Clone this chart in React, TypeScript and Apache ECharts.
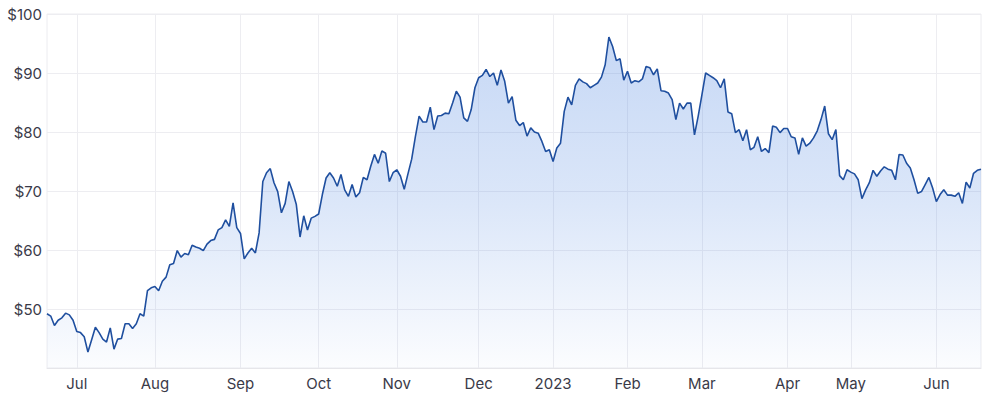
import { useEffect, useRef } from 'react';
import * as echarts from 'echarts';

// Daily closes, one array per month (trading days only)
const jun22 = [49.2, 48.8, 47.2, 48.1, 48.5, 49.3, 49.0, 48.1];
const jul22 = [46.2, 46.0, 45.3, 42.7, 44.8, 46.9, 46.0, 44.9, 44.4, 46.8, 43.2, 44.9, 45.0, 47.5, 47.5, 46.7, 47.5, 49.2, 48.8, 53.1, 53.6];
const aug22 = [53.8, 53.1, 54.7, 55.4, 57.5, 57.7, 59.9, 58.8, 59.4, 59.2, 60.8, 60.5, 60.3, 59.9, 61.0, 61.6, 61.8, 63.4, 63.8, 65.1, 64.0, 68.0, 63.8];
const sep22 = [62.8, 58.5, 59.5, 60.3, 59.5, 62.9, 71.6, 73.1, 73.8, 71.4, 69.9, 66.3, 67.9, 71.6, 69.9, 67.7, 62.2, 65.8, 63.4, 65.4, 65.7];
const oct22 = [66.1, 69.4, 72.2, 73.1, 72.2, 70.8, 72.8, 70.2, 69.1, 71.1, 69.0, 69.7, 72.3, 71.9, 74.2, 76.2, 74.7, 76.8, 76.4, 71.6, 73.1];
const nov22 = [73.6, 72.5, 70.3, 72.9, 75.4, 79.2, 82.7, 81.7, 81.7, 84.2, 80.4, 82.7, 82.8, 83.2, 83.1, 84.9, 86.9, 85.9, 82.4, 81.8, 83.8, 87.5];
const dec22 = [89.2, 89.6, 90.6, 89.4, 90.0, 87.9, 90.5, 88.6, 84.9, 86.0, 82.0, 81.1, 81.6, 79.3, 80.7, 80.0, 79.8, 78.4, 76.7, 77.0];
const jan23 = [75.0, 77.3, 78.1, 83.5, 85.9, 84.6, 87.9, 89.0, 88.5, 88.2, 87.5, 87.9, 88.3, 89.3, 91.4, 96.1, 94.5, 92.1, 92.4, 88.8];
const feb23 = [90.3, 88.3, 88.7, 88.5, 89.0, 91.1, 90.9, 89.7, 90.7, 87.0, 86.9, 86.6, 85.5, 82.1, 84.9, 83.9, 84.9, 84.9, 79.5, 82.7];
const mar23 = [86.3, 90.0, 89.6, 89.2, 88.7, 87.5, 89.0, 83.4, 83.1, 79.9, 80.4, 78.5, 80.4, 77.0, 77.4, 79.2, 76.7, 77.2, 76.5, 81.0, 80.8, 79.9, 80.6];
const apr23 = [80.6, 79.2, 79.0, 76.2, 79.0, 77.6, 78.1, 79.0, 80.2, 82.1, 84.4, 79.7, 78.7, 80.4, 72.6, 71.9, 73.6];
const may23 = [73.2, 72.9, 71.9, 68.7, 70.2, 71.4, 73.5, 72.5, 73.4, 74.1, 73.7, 73.5, 71.9, 76.2, 76.1, 74.7, 73.9, 71.9, 69.6, 69.9, 71.1, 72.3, 70.5];
const jun23 = [68.2, 69.4, 70.2, 69.3, 69.3, 69.1, 69.7, 67.9, 71.5, 70.5, 73.0, 73.5, 73.7];

const months = [jun22, jul22, aug22, sep22, oct22, nov22, dec22, jan23, feb23, mar23, apr23, may23, jun23];
// tick label for the first trading day of each month (null = no label)
const monthLabels = [null, 'Jul', 'Aug', 'Sep', 'Oct', 'Nov', 'Dec', '2023', 'Feb', 'Mar', 'Apr', 'May', 'Jun'];

const yTicks = [50, 60, 70, 80, 90, 100];

export default function App() {
  const ref = useRef<HTMLDivElement>(null);

  useEffect(() => {
    if (!ref.current) return;
    const chart = echarts.init(ref.current, undefined, { renderer: 'svg' });

    const values: number[] = [];
    const categories: string[] = [];
    const labelAt: Record<number, string> = {};
    months.forEach((m, mi) => {
      m.forEach((v, di) => {
        const idx = values.length;
        if (di === 0 && monthLabels[mi]) labelAt[idx] = monthLabels[mi] as string;
        categories.push(String(idx));
        values.push(v);
      });
    });

    const showAt = (index: number) => labelAt[index] !== undefined;

    chart.setOption({
      animation: false,
      grid: {
        left: 47,
        right: 19,
        top: 14,
        bottom: 32,
        show: true,
        borderColor: '#ececf0',
        borderWidth: 1,
      },
      xAxis: {
        type: 'category',
        data: categories,
        boundaryGap: false,
        axisLine: { lineStyle: { color: '#e6e6ea' } },
        axisTick: { show: false },
        axisLabel: {
          interval: showAt,
          formatter: (_v: string, i: number) => labelAt[i] ?? '',
          color: '#3a3a48',
          fontFamily: 'Inter',
          fontSize: 15,
          margin: 8,
        },
        splitLine: {
          show: true,
          interval: showAt,
          lineStyle: { color: '#ededf1' },
        },
      },
      yAxis: {
        type: 'value',
        min: 40,
        max: 100,
        interval: 10,
        axisLine: { show: false },
        axisTick: { show: false },
        axisLabel: {
          formatter: (v: number) => (yTicks.includes(v) ? `$${v}` : ''),
          color: '#3a3a48',
          fontFamily: 'Inter',
          fontSize: 15,
          margin: 5,
        },
        splitLine: { lineStyle: { color: '#ededf1' } },
      },
      series: [
        {
          type: 'line',
          data: values,
          symbol: 'none',
          lineStyle: { color: '#1f4f9f', width: 1.6 },
          areaStyle: {
            color: new echarts.graphic.LinearGradient(0, 0, 0, 1, [
              { offset: 0, color: 'rgba(80,135,225,0.46)' },
              { offset: 0.5, color: 'rgba(80,135,225,0.29)' },
              { offset: 1, color: 'rgba(80,135,225,0.03)' },
            ]),
          },
        },
      ],
    });

    return () => chart.dispose();
  }, []);

  return (
    <div
      ref={ref}
      style={{ position: 'fixed', left: 0, top: 0, width: 1000, height: 400, background: '#fff' }}
    />
  );
}
